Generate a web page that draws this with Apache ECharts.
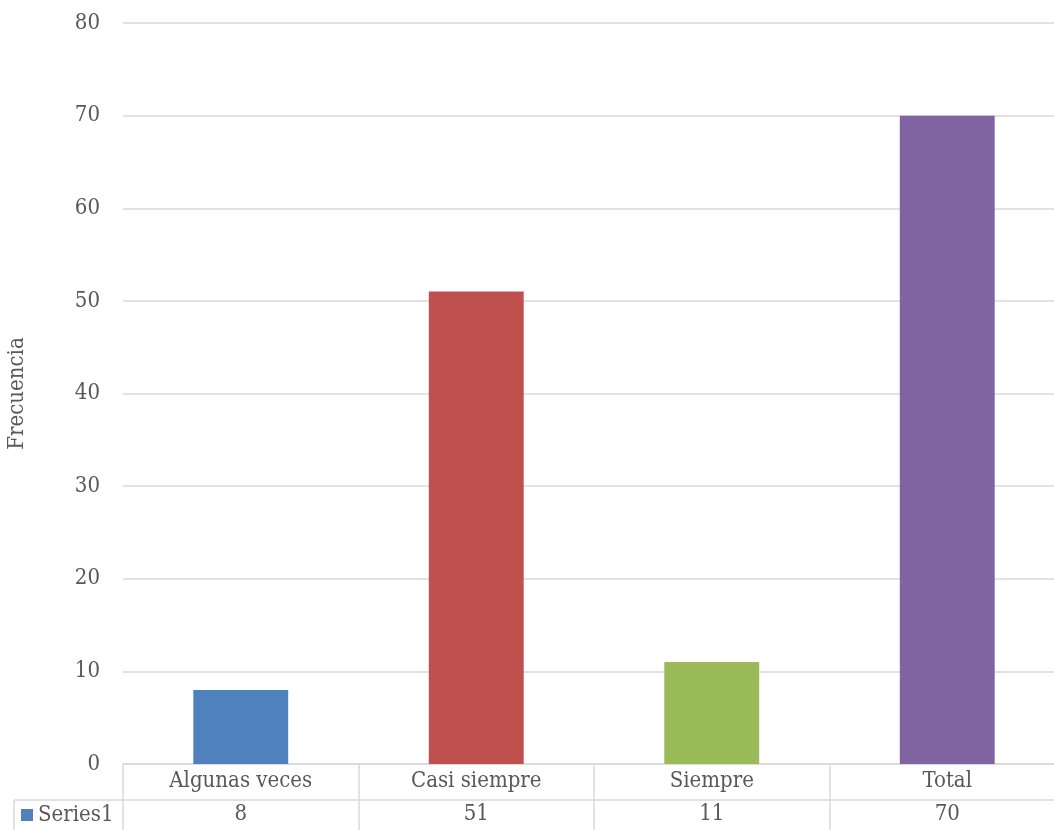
<!DOCTYPE html>
<html><head><meta charset="utf-8">
<script src="https://cdn.jsdelivr.net/npm/echarts@6/dist/echarts.min.js"></script>
<style>html,body{margin:0;padding:0;background:#fff;overflow:hidden}#c{width:1054px;height:830px}</style>
</head><body><div id="c"></div>
<script>
const categories = ['Algunas veces', 'Casi siempre', 'Siempre', 'Total'];
const values = [8, 51, 11, 70];
const barColors = ['#4F81BD', '#C0504D', '#9BBB59', '#8064A2'];
const seriesName = 'Series1';
const yTicks = {min: 0, max: 80, interval: 10};

const FONT = "'DejaVu Serif Condensed', 'DejaVu Serif', serif";
const FS = 22;
const TXT = '#595959';
const LINE = '#D9D9D9';
const chart = echarts.init(document.getElementById('c'));
chart.setOption({
  animation: false,
  textStyle: {fontFamily: FONT},
  grid: {left: 123, width: 942, top: 23, height: 741, containLabel: false, outerBoundsMode: 'none'},
  legend: {
    data: [seriesName], left: 21, top: 804, icon: 'rect', itemWidth: 12, itemHeight: 12, itemGap: 3,
    textStyle: {fontFamily: FONT, fontSize: FS, color: TXT}, padding: 0
  },
  xAxis: [{
    type: 'category', data: categories, position: 'bottom',
    axisLine: {show: true, lineStyle: {color: LINE, width: 1.5}},
    axisTick: {show: true, interval: 0, length: 36, inside: false, lineStyle: {color: LINE, width: 1.5}},
    axisLabel: {interval: 0, margin: 6, fontSize: FS, color: TXT, fontFamily: FONT}
  }, {
    type: 'category', data: categories, position: 'bottom', offset: 36,
    axisLine: {show: true, lineStyle: {color: LINE, width: 1.5}},
    axisTick: {show: true, interval: 0, length: 31, lineStyle: {color: LINE, width: 1.5}},
    axisLabel: {interval: 0, margin: 3, fontSize: FS, color: TXT, fontFamily: FONT,
      formatter: (v, i) => String(values[i])}
  }],
  yAxis: {
    type: 'value', min: yTicks.min, max: yTicks.max, interval: yTicks.interval,
    name: 'Frecuencia', nameLocation: 'middle', nameGap: 95, nameRotate: 90,
    nameTextStyle: {fontSize: FS, color: TXT, fontFamily: FONT},
    axisLine: {show: false}, axisTick: {show: false},
    axisLabel: {fontSize: FS, color: TXT, margin: 23, fontFamily: FONT},
    splitLine: {lineStyle: {color: LINE, width: 1.5}}
  },
  series: [{
    name: seriesName, type: 'bar', xAxisIndex: 0, barWidth: '40.3%',
    itemStyle: {color: barColors[0]},
    data: values.map((v, i) => ({value: v, itemStyle: {color: barColors[i]}}))
  }]
});
const y0 = chart.convertToPixel({yAxisIndex: 0}, 0);
const rowY = y0 + 36;
chart.setOption({graphic: [
  {type: 'line', shape: {x1: 14, y1: rowY, x2: 123, y2: rowY}, style: {stroke: LINE, lineWidth: 1.5}},
  {type: 'line', shape: {x1: 14, y1: rowY, x2: 14, y2: 830}, style: {stroke: LINE, lineWidth: 1.5}}
]});
</script></body></html>
